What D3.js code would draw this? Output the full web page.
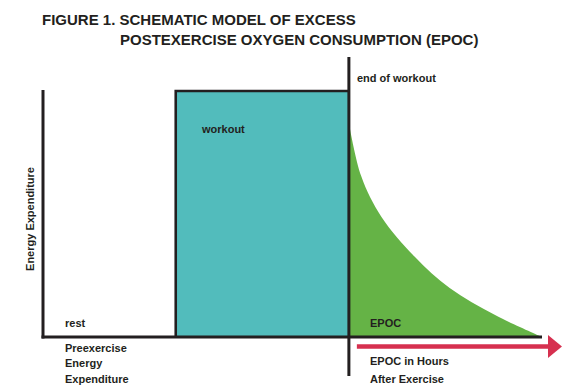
<!DOCTYPE html>
<html>
<head>
<meta charset="utf-8">
<script src="https://cdn.jsdelivr.net/npm/d3@7"></script>
<style>
  html, body { margin: 0; padding: 0; background: #ffffff; }
  svg { display: block; }
  text { font-family: "Liberation Sans", Arial, Helvetica, sans-serif; font-weight: bold; fill: #231f20; }
</style>
</head>
<body>
<svg id="chart" width="566" height="392"></svg>
<script>
// ---- data (schematic units: time 0-100, energy 0-100) ----
const titleLines = ["FIGURE 1. SCHEMATIC MODEL OF EXCESS", "POSTEXERCISE OXYGEN CONSUMPTION (EPOC)"];
const phaseNames = ["rest", "workout", "EPOC"];
const phaseStart = [0, 26.6, 61.3];
const phaseEnd = [26.6, 61.3, 100];
const restLevel = 0;
const workoutLevel = 100;
const epocTime  = [61.3, 63.8, 67.8, 74.5, 81.5, 90.6, 100];
const epocValue = [87.0, 65.2, 48.9, 32.6, 19.9, 8.9, 0];
const yLabel = "Energy Expenditure";
const preLabel = ["Preexercise", "Energy", "Expenditure"];
const postLabel = ["EPOC in Hours", "After Exercise"];
const endLabel = "end of workout";

// ---- scales ----
const x = d3.scaleLinear().domain([0, 100]).range([43, 542]);
const y = d3.scaleLinear().domain([0, 100]).range([337, 91]);

const svg = d3.select("#chart");
const ink = "#231f20";
const teal = "#52bcbc";
const green = "#65b346";
const red = "#d6304f";

// title
svg.append("text").attr("x", 42).attr("y", 24.5).attr("font-size", 15).text(titleLines[0]);
svg.append("text").attr("x", 120).attr("y", 45).attr("font-size", 15).text(titleLines[1]);

// EPOC area
const epocData = epocTime.map((t, i) => ({t, v: epocValue[i]}));
svg.append("path")
  .datum(epocData)
  .attr("fill", green)
  .attr("d", d3.area().x(d => x(d.t)).y0(y(restLevel)).y1(d => y(d.v)).curve(d3.curveCatmullRom.alpha(0.5)));

// workout rectangle
svg.append("rect")
  .attr("x", x(phaseStart[1]))
  .attr("y", y(workoutLevel))
  .attr("width", x(phaseEnd[1]) - x(phaseStart[1]))
  .attr("height", y(restLevel) - y(workoutLevel))
  .attr("fill", teal);
// workout top & left edges
svg.append("path")
  .attr("d", `M${x(phaseStart[1])},${y(restLevel)} V${y(workoutLevel)} H${x(phaseEnd[1])}`)
  .attr("fill", "none").attr("stroke", ink).attr("stroke-width", 2.6);

// y axis line
svg.append("line")
  .attr("x1", x(0)).attr("x2", x(0))
  .attr("y1", y(workoutLevel) - 1).attr("y2", y(restLevel) + 1.5)
  .attr("stroke", ink).attr("stroke-width", 3);

// baseline
svg.append("line")
  .attr("x1", x(0) - 1.5).attr("x2", x(100))
  .attr("y1", y(restLevel)).attr("y2", y(restLevel))
  .attr("stroke", ink).attr("stroke-width", 3);

// end of workout line
svg.append("line")
  .attr("x1", x(phaseEnd[1])).attr("x2", x(phaseEnd[1]))
  .attr("y1", 57).attr("y2", 376)
  .attr("stroke", ink).attr("stroke-width", 3);

// red arrow
const arrowY = 346.5;
svg.append("line")
  .attr("x1", x(62.9)).attr("x2", x(101.5))
  .attr("y1", arrowY).attr("y2", arrowY)
  .attr("stroke", red).attr("stroke-width", 4.5);
svg.append("path")
  .attr("d", `M${x(101.2)},${arrowY - 11.5} L${x(104)},${arrowY} L${x(101.2)},${arrowY + 11.5} Z`)
  .attr("fill", red);

// labels
svg.append("text").attr("x", 357).attr("y", 82).attr("font-size", 11).text(endLabel);
svg.append("text").attr("x", 202).attr("y", 133).attr("font-size", 11).text(phaseNames[1]);
svg.append("text").attr("x", 65).attr("y", 327).attr("font-size", 11).text(phaseNames[0]);
svg.append("text").attr("x", 370).attr("y", 327).attr("font-size", 11).attr("font-weight", "normal").text(phaseNames[2]);

svg.append("text")
  .attr("transform", "translate(34,219) rotate(-90)")
  .attr("text-anchor", "middle")
  .attr("font-size", 11)
  .text(yLabel);

const preY = [352, 367, 383];
preLabel.forEach((s, i) => svg.append("text").attr("x", 65).attr("y", preY[i]).attr("font-size", 11).text(s));
const postY = [365, 383];
postLabel.forEach((s, i) => svg.append("text").attr("x", 370).attr("y", postY[i]).attr("font-size", 11).text(s));
</script>
</body>
</html>
